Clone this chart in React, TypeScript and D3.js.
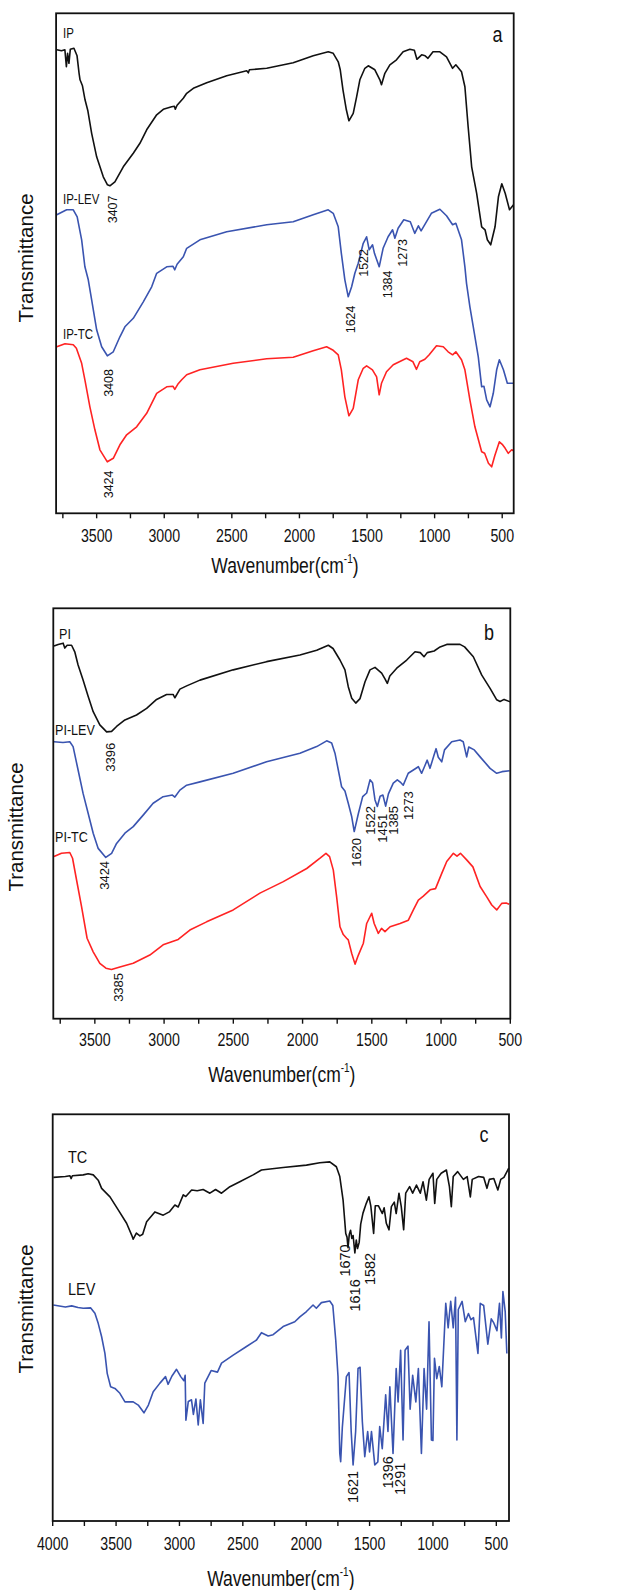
import * as d3 from 'd3'

type Pt = [number, number]

// ---- panel a : IP, IP-LEV, IP-TC (transmittance in % of frame height) ----
const IP: Pt[] = [
  [3795, 92.7], [3760, 92.5], [3735, 92.7], [3724, 89.3], [3715, 92], [3705, 90], [3695, 92.8], [3668, 93],
  [3645, 91.5], [3630, 88], [3623, 86.7], [3605, 85.5], [3586, 82.7], [3565, 80.5], [3537, 76], [3500, 71.3],
  [3451, 67.3], [3420, 65.7], [3402, 65.5], [3365, 66.3], [3303, 69.3], [3229, 72], [3180, 74], [3130, 76.7],
  [3056, 79.7], [3007, 80.8], [2945, 81.3], [2925, 81.4], [2918, 80.8], [2905, 81.6], [2859, 83], [2834, 84],
  [2785, 85], [2686, 86.1], [2538, 87.5], [2390, 88.5], [2378, 88.1], [2370, 88.7], [2242, 89], [2046, 90.1],
  [1898, 91.5], [1787, 92.3], [1750, 92], [1713, 90.3], [1698, 88.7], [1678, 84.7], [1653, 80.7], [1634, 78.5],
  [1602, 80], [1577, 83.3], [1553, 86.7], [1516, 89], [1491, 89.5], [1442, 88.7], [1405, 86.7], [1393, 85.7],
  [1368, 88], [1331, 89.7], [1282, 90.7], [1233, 92.3], [1183, 92.8], [1150, 92.6], [1131, 90.8], [1096, 91.7],
  [1070, 91.5], [1049, 91], [1012, 92.3], [961, 92.3], [912, 91.3], [867, 89], [843, 89.7], [801, 88.3],
  [776, 85.3], [752, 77.3], [726, 69.3], [689, 64], [652, 57.3], [627, 56.7], [610, 54.7], [585, 53.7],
  [553, 57.3], [528, 63.3], [503, 65.9], [478, 64], [446, 60.7], [416, 61.7]
]
const IP_LEV: Pt[] = [
  [3795, 59.7], [3722, 60.7], [3673, 60.7], [3644, 59.3], [3611, 54.7], [3587, 49.3], [3562, 46.7], [3537, 42.7],
  [3500, 36.7], [3463, 33.3], [3421, 31.5], [3377, 32.3], [3328, 35.3], [3291, 37.3], [3229, 39], [3155, 42.3],
  [3093, 45.3], [3056, 48], [2982, 49.3], [2935, 49.4], [2922, 48.7], [2905, 49.8], [2859, 51.3], [2834, 53],
  [2736, 54.7], [2538, 56.3], [2242, 57.7], [2046, 58.3], [1898, 59.7], [1787, 60.7], [1750, 60], [1713, 57.3],
  [1690, 52], [1664, 46.7], [1639, 43.3], [1614, 45.3], [1590, 48], [1565, 50], [1528, 54], [1503, 55.3],
  [1484, 52.7], [1459, 53.7], [1445, 52], [1410, 49.3], [1381, 53], [1344, 55.3], [1311, 56.7], [1294, 55],
  [1270, 57], [1228, 58.7], [1180, 58.3], [1147, 56], [1120, 57.5], [1100, 56.5], [1061, 58.3], [1024, 60],
  [961, 60.8], [912, 59.5], [867, 57.7], [843, 58], [801, 54.7], [776, 49.3], [764, 46], [739, 41.3],
  [714, 37.3], [677, 31.3], [652, 25.3], [635, 25.4], [615, 22.7], [590, 21.3], [566, 24], [541, 28.7],
  [521, 30.7], [491, 28.7], [462, 26], [416, 26]
]
const IP_TC: Pt[] = [
  [3795, 33.3], [3734, 33.9], [3673, 33.7], [3650, 33], [3611, 30], [3587, 26.7], [3550, 21.3], [3513, 16.7],
  [3476, 12.7], [3421, 10.3], [3377, 11], [3328, 13.7], [3278, 15.7], [3204, 17.3], [3130, 20], [3093, 22],
  [3056, 24], [2982, 25.3], [2935, 25.4], [2922, 24.8], [2900, 25.8], [2871, 26.7], [2834, 27.7], [2736, 28.7],
  [2490, 30], [2242, 30.9], [2046, 31.2], [1898, 32.5], [1799, 33.3], [1750, 32.6], [1713, 31.7], [1690, 28.7],
  [1664, 23.3], [1634, 19.5], [1602, 21], [1565, 26.7], [1528, 29], [1503, 29.5], [1460, 28.7], [1429, 27.3],
  [1410, 23.7], [1393, 26], [1356, 28.3], [1306, 29.7], [1208, 31], [1160, 30.3], [1134, 28.8], [1110, 30.3],
  [1072, 30.8], [1040, 31.7], [986, 33.5], [936, 33.3], [900, 32.3], [867, 31.7], [843, 32.3], [801, 30.7],
  [776, 28.7], [739, 22.7], [702, 17.3], [652, 12.3], [630, 12], [602, 10], [578, 9.3], [555, 11.5],
  [521, 14.3], [500, 13.8], [478, 13], [455, 12], [430, 12.7], [416, 12.5]
]

// ---- panel b : PI, PI-LEV, PI-TC ----
const PI: Pt[] = [
  [3795, 90.8], [3765, 91.2], [3729, 91.5], [3717, 90.3], [3700, 91], [3668, 91], [3645, 89.4], [3621, 86.2],
  [3585, 82.5], [3548, 78.5], [3512, 74.8], [3464, 71.6], [3415, 69.9], [3379, 70], [3343, 71.2], [3283, 72.8],
  [3199, 74], [3126, 75.6], [3054, 77.8], [2982, 79], [2935, 79], [2922, 78.2], [2886, 80.3], [2837, 81.1],
  [2741, 82.5], [2501, 85], [2260, 87], [2019, 88.6], [1898, 89.8], [1814, 91], [1780, 90.2], [1730, 87.4],
  [1694, 85], [1670, 80.9], [1645, 78.1], [1616, 76.9], [1585, 78], [1549, 82.1], [1513, 85], [1477, 85.6],
  [1429, 84.2], [1405, 82.8], [1388, 81.7], [1370, 83.5], [1320, 85.4], [1248, 87.4], [1188, 89.4], [1150, 89.2],
  [1123, 88.2], [1100, 89.2], [1050, 89.6], [1007, 90.6], [959, 91.2], [863, 91.2], [830, 90.6], [767, 88.2],
  [706, 83.7], [646, 80.5], [598, 77.7], [574, 77.3], [545, 77.8], [500, 77.2]
]
const PI_LEV: Pt[] = [
  [3795, 67.5], [3730, 67.3], [3681, 67.5], [3657, 66.3], [3621, 60.6], [3585, 54.9], [3548, 50], [3512, 45.2],
  [3476, 41.5], [3421, 39.3], [3379, 40.3], [3343, 42.7], [3283, 45.2], [3223, 46.8], [3151, 49.6], [3079, 52.5],
  [3007, 54.1], [2940, 54.5], [2922, 54], [2886, 55.7], [2837, 56.9], [2741, 57.7], [2501, 59.8], [2260, 62.6],
  [2019, 64.7], [1898, 66.3], [1826, 67.7], [1790, 67.2], [1766, 64.7], [1742, 60.6], [1718, 56.5], [1694, 55.5],
  [1670, 52.5], [1645, 49.2], [1627, 45.6], [1597, 50], [1566, 54.1], [1537, 55], [1513, 58.2], [1495, 57.5],
  [1477, 53.3], [1460, 51.7], [1440, 54.2], [1420, 54.5], [1400, 51.8], [1380, 54.8], [1345, 57.4], [1316, 58.2],
  [1290, 57.5], [1273, 56.9], [1237, 59.8], [1200, 60.6], [1164, 61.4], [1140, 59.8], [1120, 61.4], [1100, 63],
  [1080, 61], [1050, 64.3], [1036, 65.8], [1020, 63.7], [995, 62.6], [975, 65.5], [923, 67.5], [863, 67.9],
  [840, 67.5], [815, 63.8], [800, 66.2], [760, 65.5], [718, 63.8], [646, 61], [598, 59.8], [560, 60.2], [505, 60.4]
]
const PI_TC: Pt[] = [
  [3795, 39.5], [3741, 40.3], [3681, 40.5], [3661, 39.1], [3632, 33.8], [3596, 27.3], [3556, 19.6], [3512, 16.3],
  [3464, 13.5], [3420, 12.3], [3380, 12], [3319, 12.6], [3223, 13.5], [3103, 15.5], [3007, 18], [2950, 18.7],
  [2898, 19.3], [2814, 21.6], [2693, 23.6], [2501, 26.5], [2308, 30.6], [2139, 33.4], [1970, 36.6], [1874, 39.1],
  [1831, 40.3], [1805, 39.5], [1778, 36.2], [1754, 29.7], [1730, 22.4], [1706, 20.5], [1682, 19.6], [1670, 19.2],
  [1645, 15.9], [1621, 13.3], [1597, 15.5], [1561, 18.4], [1537, 23.2], [1501, 25.7], [1483, 23.2], [1453, 20.8],
  [1430, 22], [1405, 21.2], [1368, 22.4], [1296, 23.2], [1236, 24], [1200, 26.5], [1164, 28.9], [1130, 29.8],
  [1079, 31.4], [1040, 31.7], [995, 35.4], [959, 38.3], [911, 40.3], [885, 39.6], [860, 40.3], [815, 38.7],
  [770, 37], [718, 32.2], [670, 29.7], [634, 27.7], [598, 26.5], [562, 28.1], [530, 28.2], [508, 27.9]
]

// ---- panel c : TC, LEV ----
const TC: Pt[] = [
  [3995, 84.5], [3900, 84.7], [3864, 84.9], [3855, 84.2], [3845, 84.9], [3759, 85.1], [3720, 85.4], [3680, 85.1],
  [3641, 83.8], [3614, 81.8], [3548, 79.7], [3483, 76.5], [3417, 73.2], [3377, 70.3], [3365, 69.3], [3340, 70.8],
  [3312, 70.1], [3290, 70.5], [3259, 73.6], [3194, 76], [3128, 75.2], [3080, 76], [3036, 77.7], [3010, 77.2],
  [2970, 80.2], [2950, 79.8], [2904, 81.4], [2860, 81.2], [2813, 81.5], [2760, 80.6], [2715, 81.5], [2668, 80.6],
  [2602, 82.2], [2524, 83.4], [2419, 85.1], [2353, 86.3], [2182, 86.9], [1998, 87.5], [1893, 88.1], [1814, 88.3],
  [1762, 87.1], [1735, 84.7], [1709, 78.9], [1688, 70.7], [1678, 69.8], [1670, 67.2], [1660, 70.5], [1650, 71.5],
  [1640, 69.5], [1630, 70.2], [1616, 65.9], [1605, 69.1], [1595, 67], [1582, 68.5], [1570, 73], [1552, 75.7],
  [1526, 78.1], [1505, 79.7], [1490, 77.4], [1468, 70.7], [1455, 77.5], [1430, 77.5], [1399, 75.6], [1385, 77],
  [1368, 73.2], [1347, 71.6], [1328, 77.3], [1305, 78.4], [1290, 75.6], [1268, 80.6], [1250, 77.3], [1231, 71.6],
  [1215, 80.6], [1184, 82.2], [1160, 80.6], [1130, 82.6], [1100, 80.6], [1078, 83.4], [1052, 78.9], [1030, 84],
  [1000, 85.5], [986, 78.1], [970, 84], [935, 85.5], [894, 86.3], [870, 82.2], [855, 77.3], [840, 84.7],
  [805, 85.9], [760, 84], [730, 84.7], [705, 79.7], [690, 84], [640, 84.7], [600, 84.5], [574, 81.8],
  [555, 84], [520, 84.2], [488, 81.4], [465, 84], [440, 84.5], [410, 86.3], [402, 86.8]
]
const LEV: Pt[] = [
  [3995, 53.1], [3900, 52.6], [3850, 52.9], [3800, 52.5], [3759, 52.3], [3700, 52.4], [3667, 51.1], [3641, 48.6],
  [3614, 45.3], [3588, 41.2], [3570, 36.3], [3543, 33], [3509, 32.6], [3470, 31.4], [3430, 29.3], [3365, 29.3],
  [3325, 28.5], [3280, 26.6], [3245, 28.5], [3207, 31.8], [3154, 33.9], [3110, 35.5], [3090, 33.6], [3060, 35.6],
  [3023, 37.3], [2990, 35.5], [2965, 34.5], [2955, 35.8], [2949, 24.8], [2930, 29.4], [2905, 29.8], [2890, 26.2],
  [2870, 30], [2852, 23.6], [2835, 29.8], [2813, 24], [2800, 33.9], [2774, 35.5], [2750, 37], [2700, 36.6],
  [2668, 38.8], [2576, 40.8], [2471, 42.9], [2392, 44.5], [2353, 46.3], [2300, 45.5], [2261, 45.8], [2182, 47.8],
  [2090, 49], [2050, 50.2], [1998, 51.5], [1946, 53.1], [1920, 52.3], [1880, 53.7], [1814, 54.1], [1790, 53],
  [1767, 44.5], [1749, 35.5], [1735, 16.6], [1728, 14.6], [1715, 23], [1683, 35.5], [1662, 36.5], [1645, 22],
  [1630, 13.8], [1610, 22], [1591, 37.5], [1575, 37.8], [1557, 24.4], [1538, 15.8], [1515, 22], [1500, 17],
  [1485, 22], [1459, 13.8], [1435, 14.5], [1420, 23.2], [1400, 17.8], [1373, 31], [1355, 22], [1340, 33],
  [1315, 16.6], [1290, 37.5], [1275, 29.3], [1255, 42], [1236, 19.9], [1220, 42], [1197, 43], [1180, 27.5],
  [1160, 35.8], [1135, 29.3], [1115, 37.5], [1091, 16.6], [1070, 37.5], [1050, 27.5], [1031, 49], [1012, 19.9],
  [1000, 19.8], [988, 40], [970, 35], [950, 38], [930, 33], [899, 53.5], [880, 47.5], [860, 54],
  [840, 47.5], [822, 55], [811, 19.9], [800, 52], [770, 54], [745, 49], [720, 51], [700, 49.5],
  [680, 50], [645, 41.2], [627, 53.5], [600, 53], [567, 43.5], [540, 49.7], [520, 48.7], [495, 46.8],
  [475, 53.5], [460, 45], [448, 56.4], [430, 51.5], [417, 41.2]
]

// tick values
const majorAB = [3500, 3000, 2500, 2000, 1500, 1000, 500]
const majorC = [4000, 3500, 3000, 2500, 2000, 1500, 1000, 500]
const minorTicks = [3750, 3250, 2750, 2250, 1750, 1250, 750]

// peak annotations: [text, wavenumber at label centre, transmittance at label foot]
const peaksA: [string, number, number][] = [
  ['3407', 3384, 58], ['1522', 1523, 47.3], ['1384', 1345, 43], ['1273', 1238, 49.3],
  ['1624', 1620, 36], ['3408', 3411, 23.3], ['3424', 3416, 3]
]
const peaksB: [string, number, number][] = [
  ['3396', 3387, 60.2], ['3424', 3435, 31.4], ['1620', 1614, 37], ['1522', 1510, 44.8],
  ['1451', 1425, 42.9], ['1385', 1347, 44.8], ['1273', 1239, 48.4], ['3385', 3330, 4.1]
]
const peaksC: [string, number, number][] = [
  ['1670', 1694, 60.1], ['1616', 1615, 51.5], ['1582', 1497, 58],
  ['1621', 1635, 4.4], ['1396', 1357, 8], ['1291', 1260, 6.4]
]

const BLACK = '#111111'
const BLUE = '#3a54b0'
const RED = '#ff2323'
const FONT = '"Liberation Sans", Arial, sans-serif'

interface Series { data: Pt[]; color: string; name: string; nx: number; ny: number }
interface PanelCfg {
  left: number; right: number; top: number; bottom: number
  domain: [number, number]
  major: number[]
  series: Series[]
  peaks: [string, number, number][]
  peakSize: number
  nameSize: number
  nameScale: number
  letter: string; lx: number; ly: number
  tickY: number; titleY: number; yTitleX: number; yTitleY: number
}

const panels: PanelCfg[] = [
  {
    left: 56.1, right: 513.7, top: 13.3, bottom: 513.3, domain: [3800, 415], major: majorAB,
    series: [
      { data: IP, color: BLACK, name: 'IP', nx: 63, ny: 38 },
      { data: IP_LEV, color: BLUE, name: 'IP-LEV', nx: 63, ny: 204 },
      { data: IP_TC, color: RED, name: 'IP-TC', nx: 63, ny: 339 }
    ],
    peaks: peaksA, peakSize: 12.5, nameSize: 11.5, nameScale: 1.2,
    letter: 'a', lx: 497.5, ly: 42, tickY: 541.7, titleY: 573, yTitleX: 26, yTitleY: 258
  },
  {
    left: 53.3, right: 510.3, top: 608.3, bottom: 1018.7, domain: [3800, 500], major: majorAB,
    series: [
      { data: PI, color: BLACK, name: 'PI', nx: 59, ny: 639 },
      { data: PI_LEV, color: BLUE, name: 'PI-LEV', nx: 55, ny: 735 },
      { data: PI_TC, color: RED, name: 'PI-TC', nx: 55, ny: 842 }
    ],
    peaks: peaksB, peakSize: 13, nameSize: 12.6, nameScale: 1.2,
    letter: 'b', lx: 489, ly: 640, tickY: 1046, titleY: 1081.5, yTitleX: 16, yTitleY: 827
  },
  {
    left: 52.7, right: 509, top: 1114.3, bottom: 1521, domain: [4000, 400], major: majorC,
    series: [
      { data: TC, color: BLACK, name: 'TC', nx: 68, ny: 1163 },
      { data: LEV, color: BLUE, name: 'LEV', nx: 68, ny: 1295 }
    ],
    peaks: peaksC, peakSize: 14.5, nameSize: 14.5, nameScale: 1.1,
    letter: 'c', lx: 484, ly: 1141.7, tickY: 1550, titleY: 1585.5, yTitleX: 26, yTitleY: 1309
  }
]

const Panel = ({ p }: { p: PanelCfg }) => {
  const x = d3.scaleLinear().domain(p.domain).range([p.left, p.right])
  const y = d3.scaleLinear().domain([0, 100]).range([p.bottom, p.top])
  const line = d3.line<Pt>().x(d => x(d[0])).y(d => y(d[1]))
  const cx = (p.left + p.right) / 2

  return (
    <g fontFamily={FONT}>
      {p.series.map(s => (
        <path key={s.name} d={line(s.data) || ''} fill="none" stroke={s.color} strokeWidth={1.6} strokeLinejoin="round" />
      ))}
      <rect x={p.left} y={p.top} width={p.right - p.left} height={p.bottom - p.top} fill="none" stroke="#111" strokeWidth={1.8} />
      {[...p.major, ...minorTicks].map(t => (
        <line key={'t' + t} x1={x(t)} x2={x(t)} y1={p.bottom} y2={p.bottom + 5} stroke="#111" strokeWidth={1.4} />
      ))}
      {p.major.map(t => (
        <text key={'l' + t} transform={`translate(${x(t)},${p.tickY}) scale(1,1.3)`} textAnchor="middle" fontSize={14.2} fill="#111">
          {t}
        </text>
      ))}
      <text transform={`translate(${cx},${p.titleY}) scale(1,1.22)`} textAnchor="middle" fontSize={17.5} fill="#111">
        Wavenumber(cm<tspan fontSize={10} dy={-8}>-1</tspan><tspan dy={8}>)</tspan>
      </text>
      <text transform={`translate(${p.yTitleX},${p.yTitleY}) rotate(-90)`} textAnchor="middle" dy="0.36em" fontSize={20.5} fill="#111">
        Transmittance
      </text>
      <text transform={`translate(${p.lx},${p.ly}) scale(1,1.2)`} textAnchor="middle" fontSize={18} fill="#111">
        {p.letter}
      </text>
      {p.series.map(s => (
        <text key={'n' + s.name} transform={`translate(${s.nx},${s.ny}) scale(1,${p.nameScale})`} fontSize={p.nameSize} fill="#111">
          {s.name}
        </text>
      ))}
      {p.peaks.map(([t, w, v]) => (
        <text key={'p' + t + w} transform={`translate(${x(w)},${y(v)}) rotate(-90)`} dy="0.36em" fontSize={p.peakSize} fill="#111">
          {t}
        </text>
      ))}
    </g>
  )
}

export default function App() {
  return (
    <svg width={632} height={1590} style={{ position: 'absolute', left: 0, top: 0, background: '#fff' }}>
      <rect width={632} height={1590} fill="#fff" />
      {panels.map(p => <Panel key={p.letter} p={p} />)}
    </svg>
  )
}
